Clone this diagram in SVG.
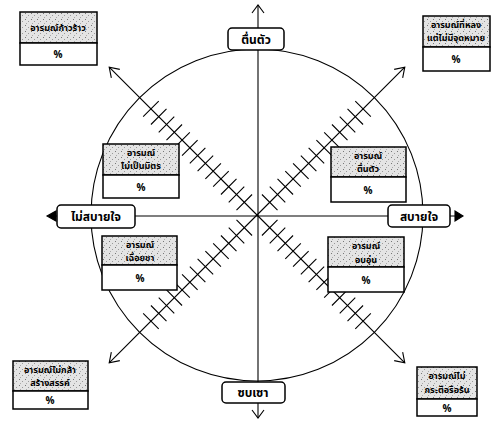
<svg xmlns="http://www.w3.org/2000/svg" width="494" height="422" viewBox="0 0 494 422">
<defs>
<pattern id="stip" width="6" height="6" patternUnits="userSpaceOnUse">
<rect width="6" height="6" fill="#e4e4e4"/>
<rect x="1" y="1" width="1" height="1" fill="#777"/>
<rect x="4" y="3" width="1" height="1" fill="#999"/>
<rect x="2" y="5" width="1" height="1" fill="#aaa"/>
</pattern>
<g id="diag">
<line x1="0" y1="0" x2="209" y2="0"/>
<polyline points="200,-6 209,0 200,6" fill="none"/>
<path d="M18,-11V11M29,-11V11M40,-11V11M51,-11V11M62,-11V11M73,-11V11M84,-11V11M95,-11V11M106,-11V11M117,-11V11M128,-11V11M139,-11V11M150,-11V11"/>
</g>
</defs>
<style>
.ln{stroke:#000;stroke-width:1.1;fill:none}
.hd{fill:url(#stip);stroke:#000;stroke-width:1.5}
.bd{fill:#fff;stroke:#000;stroke-width:1.5}
.lb{fill:#fff;stroke:#000;stroke-width:1.5}
text{font-family:"Noto Sans Thai","Noto Sans","DejaVu Sans",sans-serif;fill:#000;text-anchor:middle;font-weight:bold}
.t1{font-size:12px}
.t2{font-size:9px}
.pc{font-size:10px}
</style>
<g id="connectors" class="ln">
<circle cx="257" cy="215" r="166"/>
<line x1="258" y1="5" x2="258" y2="418"/>
<polyline points="252,13 258,5 264,13"/>
<polyline points="252,410 258,418 264,410"/>
<line x1="50" y1="216" x2="460" y2="216"/>
<polygon points="47,216 56,211 56,221" fill="#000"/>
<polygon points="463,216 455,211 455,221" fill="#000"/>
<use href="#diag" transform="translate(257,215) rotate(-135)"/>
<use href="#diag" transform="translate(257,215) rotate(-45)"/>
<use href="#diag" transform="translate(257,215) rotate(45)"/>
<use href="#diag" transform="translate(257,215) rotate(135)"/>
</g>
<g id="axis-top"><rect class="lb" x="228" y="28" width="56" height="22" rx="4"/><text class="t1" x="256" y="44">ตื่นตัว</text></g>
<g id="axis-bottom"><rect class="lb" x="222" y="382" width="63" height="21" rx="4"/><text class="t1" x="253" y="397">ซบเซา</text></g>
<g id="axis-left"><rect class="lb" x="57" y="205" width="78" height="23" rx="4"/><text class="t1" x="96" y="221">ไม่สบายใจ</text></g>
<g id="axis-right"><rect class="lb" x="388" y="205" width="62" height="22" rx="4"/><text class="t1" x="419" y="221">สบายใจ</text></g>
<g id="box-tl"><rect class="hd" x="20" y="12" width="77" height="31"/><rect class="bd" x="20" y="43" width="77" height="22"/><text class="t2" x="58" y="31">อารมณ์ก้าวร้าว</text><text class="pc" x="58" y="58">%</text></g>
<g id="box-tr"><rect class="hd" x="423" y="16" width="67" height="31"/><rect class="bd" x="423" y="47" width="67" height="24"/><text class="t2" x="456" y="28">อารมณ์ที่หลง</text><text class="t2" x="456" y="41">แต่ไม่มีจุดหมาย</text><text class="pc" x="456" y="63">%</text></g>
<g id="box-itl"><rect class="hd" x="103" y="144" width="76" height="31"/><rect class="bd" x="103" y="175" width="76" height="23"/><text class="t2" x="141" y="156">อารมณ์</text><text class="t2" x="141" y="169">ไม่เป็นมิตร</text><text class="pc" x="141" y="191">%</text></g>
<g id="box-ibl"><rect class="hd" x="102" y="236" width="75" height="29"/><rect class="bd" x="102" y="265" width="75" height="25"/><text class="t2" x="140" y="248">อารมณ์</text><text class="t2" x="140" y="261">เฉื่อยชา</text><text class="pc" x="140" y="282">%</text></g>
<g id="box-itr"><rect class="hd" x="331" y="147" width="75" height="30"/><rect class="bd" x="331" y="177" width="75" height="25"/><text class="t2" x="368" y="159">อารมณ์</text><text class="t2" x="368" y="172">ตื่นตัว</text><text class="pc" x="368" y="194">%</text></g>
<g id="box-ibr"><rect class="hd" x="328" y="237" width="76" height="30"/><rect class="bd" x="328" y="267" width="76" height="25"/><text class="t2" x="366" y="249">อารมณ์</text><text class="t2" x="366" y="263">อบอุ่น</text><text class="pc" x="366" y="284">%</text></g>
<g id="box-bl"><rect class="hd" x="13" y="361" width="75" height="30"/><rect class="bd" x="13" y="391" width="75" height="18"/><text class="t2" x="50" y="373">อารมณ์ไม่กล้า</text><text class="t2" x="50" y="386">สร้างสรรค์</text><text class="pc" x="50" y="404">%</text></g>
<g id="box-br"><rect class="hd" x="417" y="367" width="60" height="32"/><rect class="bd" x="417" y="399" width="60" height="17"/><text class="t2" x="447" y="379">อารมณ์ไม่</text><text class="t2" x="447" y="393">กระตือรือร้น</text><text class="pc" x="447" y="412">%</text></g>
</svg>
